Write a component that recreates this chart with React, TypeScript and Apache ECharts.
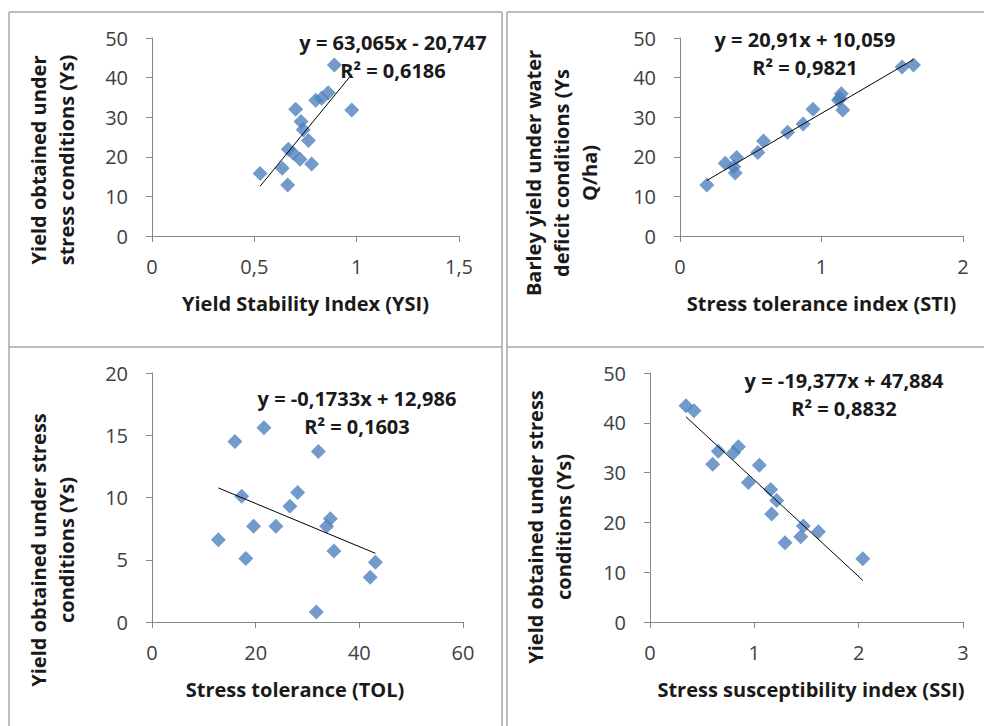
import React, { useEffect, useRef } from "react";
import * as echarts from "echarts";

// Panel 1: Yield Stability Index (YSI) vs Ys
const ysiX = [0.528, 0.636, 0.663, 0.666, 0.69, 0.702, 0.723, 0.728, 0.739, 0.764, 0.78, 0.8, 0.829, 0.861, 0.891, 0.976];
const ysiY = [15.8, 17.1, 12.9, 21.9, 20.9, 32.0, 19.4, 28.9, 26.8, 24.1, 18.2, 34.3, 34.8, 36.2, 43.2, 31.8];

// Panel 2: Stress tolerance index (STI) vs Ys
const stiX = [0.19, 0.32, 0.38, 0.40, 0.39, 0.55, 0.59, 0.76, 0.87, 0.94, 1.12, 1.14, 1.13, 1.15, 1.57, 1.65];
const stiY = [12.9, 18.4, 17.5, 19.8, 15.9, 21.1, 24.0, 26.2, 28.3, 32.0, 34.3, 35.9, 34.8, 31.8, 42.7, 43.2];

// Panel 3: Stress tolerance (TOL) vs Ys
const tolX = [12.8, 16.0, 17.3, 18.1, 19.6, 21.6, 23.9, 26.6, 28.1, 31.7, 32.1, 33.7, 34.4, 35.1, 42.1, 43.1];
const tolY = [6.6, 14.5, 10.1, 5.1, 7.7, 15.6, 7.7, 9.3, 10.4, 0.8, 13.7, 7.7, 8.3, 5.7, 3.6, 4.8];

// Panel 4: Stress susceptibility index (SSI) vs Ys
const ssiX = [0.345, 0.422, 0.601, 0.655, 0.8, 0.847, 0.943, 1.048, 1.157, 1.214, 1.166, 1.294, 1.445, 1.47, 1.614, 2.04];
const ssiY = [43.4, 42.4, 31.7, 34.3, 34.0, 35.2, 28.0, 31.5, 26.6, 24.4, 21.7, 15.9, 17.1, 19.3, 18.1, 12.7];

// Trendline coefficients (from the equations shown)
const slopes = [63.065, 20.91, -0.1733, -19.377];
const intercepts = [-20.747, 10.059, 12.986, 47.884];
const eqLabels = ["y = 63,065x - 20,747", "y = 20,91x + 10,059", "y = -0,1733x + 12,986", "y = -19,377x + 47,884"];
const r2Labels = ["R² = 0,6186", "R² = 0,9821", "R² = 0,1603", "R² = 0,8832"];

// Axis settings
const xMins = [0, 0, 0, 0];
const xMaxs = [1.5, 2, 60, 3];
const xIntervals = [0.5, 1, 20, 1];
const yMaxs = [50, 50, 20, 50];
const yIntervals = [10, 10, 5, 10];
const xNames = ["Yield Stability Index (YSI)", "Stress tolerance index (STI)", "Stress tolerance (TOL)", "Stress susceptibility index (SSI)"];
const yNames = [
  "Yield obtained under\nstress conditions (Ys)",
  "Barley yield under water\ndeficit conditions (Ys\nQ/ha)",
  "Yield obtained under stress\nconditions (Ys)",
  "Yield obtained under stress\nconditions (Ys)",
];

const FONT = "'Open Sans', 'Noto Sans', sans-serif";
const MARKER = "#4F81BD";

export default function App() {
  const ref = useRef<HTMLDivElement>(null);

  useEffect(() => {
    if (!ref.current) return;
    const chart = echarts.init(ref.current, undefined, { renderer: "svg" });

    const xs = [ysiX, stiX, tolX, ssiX];
    const ys = [ysiY, stiY, tolY, ssiY];

    const grids = [
      { left: 152, top: 38, width: 307, height: 198 },
      { left: 680, top: 38, width: 283, height: 198 },
      { left: 152, top: 373, width: 311, height: 249 },
      { left: 650, top: 373, width: 313, height: 249 },
    ];

    const fmt = (v: number) => String(v).replace(".", ",");

    const xAxes = grids.map((_, i) => ({
      type: "value",
      gridIndex: i,
      min: xMins[i],
      max: xMaxs[i],
      interval: xIntervals[i],
      name: xNames[i],
      nameLocation: "middle",
      nameGap: 55,
      nameTextStyle: {
        fontFamily: FONT,
        fontSize: 20,
        fontWeight: "bold",
        color: "#1a1a1a",
        lineHeight: 24,
        padding: i === 2 ? [0, 25, 0, 0] : i === 3 ? [0, 0, 0, 9] : 0,
      },
      axisLine: { show: true, onZero: false, lineStyle: { color: "#868686", width: 1 } },
      axisTick: { show: true, inside: false, length: 6, lineStyle: { color: "#868686" } },
      splitLine: { show: false },
      axisLabel: {
        fontFamily: FONT,
        fontSize: 20,
        color: "#404040",
        margin: 20,
        formatter: fmt,
        showMinLabel: true,
        showMaxLabel: true,
      },
    }));

    const yAxes = grids.map((_, i) => ({
      type: "value",
      gridIndex: i,
      min: 0,
      max: yMaxs[i],
      interval: yIntervals[i],
      axisLine: { show: true, onZero: false, lineStyle: { color: "#868686", width: 1 } },
      axisTick: { show: true, inside: false, length: 6, lineStyle: { color: "#868686" } },
      splitLine: { show: false },
      axisLabel: {
        fontFamily: FONT,
        fontSize: 20,
        color: "#404040",
        margin: 24,
        formatter: fmt,
      },
    }));

    const series: any[] = [];
    for (let i = 0; i < 4; i++) {
      series.push({
        type: "scatter",
        xAxisIndex: i,
        yAxisIndex: i,
        symbol: "diamond",
        symbolSize: 15,
        itemStyle: { color: MARKER },
        data: xs[i].map((x, k) => [x, ys[i][k]]),
        z: 2,
      });
      const lo = Math.min(...xs[i]);
      const hi = Math.max(...xs[i]);
      series.push({
        type: "line",
        xAxisIndex: i,
        yAxisIndex: i,
        symbol: "none",
        lineStyle: { color: "#000", width: 1 },
        data: [
          [lo, slopes[i] * lo + intercepts[i]],
          [hi, slopes[i] * hi + intercepts[i]],
        ],
        z: 3,
      });
    }

    const border = "#a6a6a6";
    const line = (x1: number, y1: number, x2: number, y2: number) => ({
      type: "line",
      shape: { x1, y1, x2, y2 },
      style: { stroke: border, lineWidth: 1.5 },
      silent: true,
    });

    const yNamePos = [
      [52, 160],
      [561, 173],
      [52, 550],
      [549, 527],
    ];
    const eqPos = [
      [393, 56],
      [805, 53],
      [357, 412],
      [844, 394],
    ];

    const graphic: any[] = [
      line(9, 12, 502, 12),
      line(507, 12, 984, 12),
      line(9, 347, 502, 347),
      line(507, 347, 984, 347),
      line(9, 12, 9, 726),
      line(502, 12, 502, 726),
      line(507, 12, 507, 726),
    ];
    for (let i = 0; i < 4; i++) {
      graphic.push({
        type: "text",
        x: yNamePos[i][0],
        y: yNamePos[i][1],
        rotation: Math.PI / 2,
        style: {
          text: yNames[i],
          fontFamily: FONT,
          fontSize: 20,
          fontWeight: "bold",
          fill: "#1a1a1a",
          align: "center",
          verticalAlign: "middle",
          lineHeight: 28,
        },
      });
      graphic.push({
        type: "text",
        x: eqPos[i][0],
        y: eqPos[i][1],
        z: 10,
        style: {
          text: eqLabels[i] + "\n" + r2Labels[i],
          fontFamily: FONT,
          fontSize: 20,
          fontWeight: "bold",
          fill: "#1a1a1a",
          align: "center",
          verticalAlign: "middle",
          lineHeight: 28,
        },
      });
    }

    chart.setOption({
      animation: false,
      backgroundColor: "#ffffff",
      grid: grids,
      xAxis: xAxes,
      yAxis: yAxes,
      series,
      graphic,
    });

    return () => chart.dispose();
  }, []);

  return (
    <div
      ref={ref}
      style={{ position: "absolute", left: 0, top: 0, width: 984, height: 726, background: "#fff" }}
    />
  );
}
